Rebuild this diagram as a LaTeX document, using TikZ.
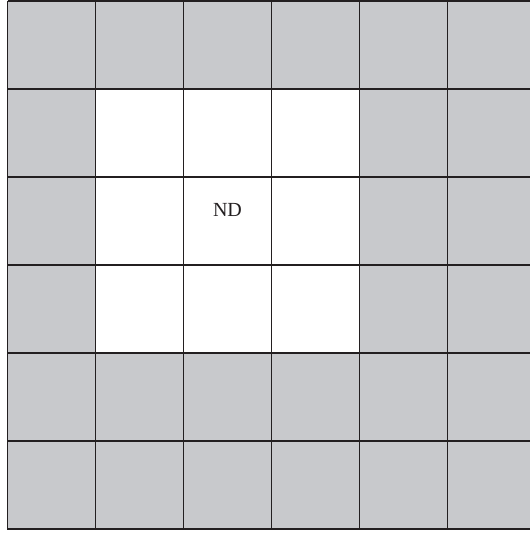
\documentclass[tikz,border=0pt]{standalone}
\usepackage{fontspec}
\setmainfont{Liberation Serif}
\definecolor{cellgray}{RGB}{200,201,204}
\definecolor{gridline}{RGB}{35,31,32}
\tikzset{
  gridstroke/.style={draw=gridline,line width=1.4pt},
  graycell/.style={fill=cellgray},
  whitecell/.style={fill=white},
  label/.style={font=\fontsize{20}{24}\selectfont,text=gridline}
}
\begin{document}
\begin{tikzpicture}[x=1pt,y=-1pt]
\useasboundingbox (0,0) rectangle (530,533);
\begin{scope}
\clip (0,-1) rectangle (530,534);
\fill[graycell] (7.5,1) rectangle (535.5,529.5);
\fill[whitecell] (95.5,89) rectangle (359.5,353);
\foreach \i in {0,...,6} {
  \draw[gridstroke] (7.5+88*\i,1) -- (7.5+88*\i,529.5);
}
\foreach \j in {0,...,6} {
  \draw[gridstroke] (7.5,1+88*\j) -- (535.5,1+88*\j);
}
\end{scope}
\node[label] (nd) at (227.5,210) {ND};
\end{tikzpicture}
\end{document}
